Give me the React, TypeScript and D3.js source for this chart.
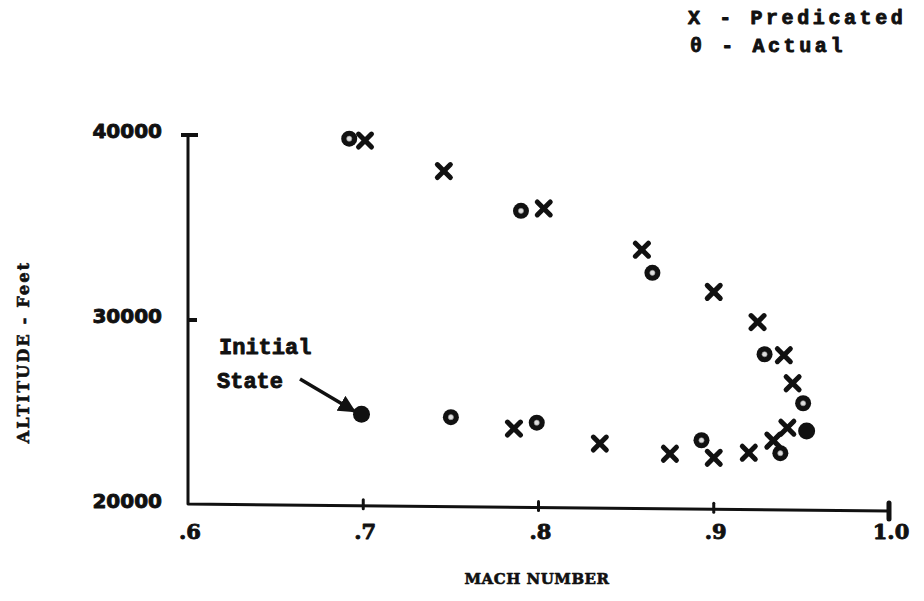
import React from "react";
import { scaleLinear, line } from "d3";

// predicted points (X markers)
const predMach = [0.701, 0.746, 0.803, 0.859, 0.9, 0.925, 0.94, 0.945, 0.942, 0.934, 0.92, 0.9, 0.875, 0.835, 0.786];
const predAlt = [39700, 38050, 36030, 33800, 31520, 29890, 28100, 26580, 24180, 23480, 22830, 22550, 22770, 23320, 24130];

// actual points (circles)
const actMach = [0.692, 0.79, 0.865, 0.929, 0.951, 0.953, 0.938, 0.893, 0.799, 0.75, 0.699];
const actAlt = [39800, 35900, 32550, 28150, 25500, 24000, 22800, 23500, 24450, 24750, 24900];
const actFilled = [false, false, false, false, false, true, false, false, false, false, true];

const xTicks = [0.6, 0.7, 0.8, 0.9, 1.0];
const xTickLabels = [".6", ".7", ".8", ".9", "1.0"];
const yTicks = [20000, 30000, 40000];
const yTickLabels = ["20000", "30000", "40000"];

const W = 924;
const H = 601;
const INK = "#111";

export default function App() {
  const x = scaleLinear().domain([0.6, 1.0]).range([188, 889]);
  const y = scaleLinear().domain([20000, 40000]).range([505, 135]);

  // the old axis sags a little to the right
  const x0 = x(0.6), x1 = x(1.0);
  const base = (v: number) => y(20000) - 1 + ((x(v) - x0) / (x1 - x0)) * 7;

  const axisPath = line<[number, number]>()([
    [x0, y(40000)],
    [x0, base(0.6)],
    [x1, base(1.0)],
  ]) as string;

  const tickFont = "'DejaVu Sans', sans-serif";
  const typeFont = "'Liberation Mono', 'DejaVu Sans Mono', monospace";
  // typewriter ink is heavier than the fonts, so stroke the glyphs a little
  const heavy = { stroke: INK, strokeWidth: 0.9, strokeLinejoin: "round" as const };

  return (
    <svg width={W} height={H} style={{ position: "absolute", left: 0, top: 0, background: "#fff" }}>
      {/* legend */}
      <g fontFamily={typeFont} fontWeight="bold" fontSize={20} fill={INK} letterSpacing={3.6} {...heavy}>
        <text x={688} y={24}>X - Predicated</text>
        <text x={690} y={52}>θ - Actual</text>
      </g>

      {/* axes */}
      <path d={axisPath} fill="none" stroke={INK} strokeWidth={3} strokeLinejoin="round" />
      <line x1={x0 - 7} x2={x0 + 10} y1={y(40000)} y2={y(40000)} stroke={INK} strokeWidth={4} />
      <line x1={x0} x2={x0 + 9} y1={y(30000)} y2={y(30000)} stroke={INK} strokeWidth={4} />
      {xTicks.slice(1).map((t, i) => (
        <line
          key={i}
          x1={x(t)}
          x2={x(t)}
          y1={base(t) - (t === 1.0 ? 8 : 6)}
          y2={base(t) + (t === 1.0 ? 8 : 3)}
          stroke={INK}
          strokeWidth={t === 1.0 ? 5 : 3}
          strokeLinecap="round"
        />
      ))}

      {/* y tick labels */}
      <g fontFamily={tickFont} fontWeight="bold" fontSize={20} fill={INK} textAnchor="end" {...heavy}>
        {yTicks.map((t, i) => (
          <text key={t} x={162} y={y(t) + 3}>
            {yTickLabels[i]}
          </text>
        ))}
      </g>

      {/* x tick labels */}
      <g fontFamily="'DejaVu Serif', serif" fontWeight="bold" fontSize={21} fill={INK} textAnchor="middle" {...heavy}>
        {xTicks.map((t, i) => (
          <text key={t} x={x(t) + 2} y={539}>
            {xTickLabels[i]}
          </text>
        ))}
      </g>

      {/* axis titles */}
      <text
        x={537}
        y={584}
        textAnchor="middle"
        fontFamily="'DejaVu Serif', serif"
        fontWeight="bold"
        fontSize={15}
        letterSpacing={0.5}
        fill={INK}
        {...heavy}
        strokeWidth={0.6}
      >
        MACH NUMBER
      </text>
      <text
        transform="translate(29,352) rotate(-90)"
        textAnchor="middle"
        fontFamily="'DejaVu Serif', serif"
        fontWeight="bold"
        fontSize={16}
        letterSpacing={2.2}
        fill={INK}
        {...heavy}
        strokeWidth={0.6}
      >
        ALTITUDE - Feet
      </text>

      {/* annotation */}
      <g fontFamily={typeFont} fontWeight="bold" fontSize={22} fill={INK} {...heavy}>
        <text x={219} y={354}>Initial</text>
        <text x={217} y={388}>State</text>
      </g>
      <defs>
        <marker id="ah" viewBox="0 0 10 10" refX={9} refY={5} markerWidth={5} markerHeight={5} orient="auto">
          <path d="M0,0 L10,5 L0,10 z" fill={INK} />
        </marker>
      </defs>
      <line
        x1={300}
        y1={379}
        x2={x(actMach[10]) - 7}
        y2={y(actAlt[10]) - 3}
        stroke={INK}
        strokeWidth={3.5}
        markerEnd="url(#ah)"
      />

      {/* actual: circles */}
      {actMach.map((m, i) => (
        <g key={"a" + i} transform={`translate(${x(m)},${y(actAlt[i])})`}>
          <circle r={actFilled[i] ? 8.5 : 8} fill={INK} />
          {!actFilled[i] && <circle r={2.6} fill="#ddd" stroke="#888" strokeWidth={0.6} />}
        </g>
      ))}

      {/* predicted: crosses */}
      {predMach.map((m, i) => (
        <g key={"p" + i} transform={`translate(${x(m)},${y(predAlt[i])})`} stroke={INK} strokeWidth={5} strokeLinecap="round">
          <line x1={-6.5} y1={-6.5} x2={6.5} y2={6.5} />
          <line x1={-6.5} y1={6.5} x2={6.5} y2={-6.5} />
        </g>
      ))}
    </svg>
  );
}
